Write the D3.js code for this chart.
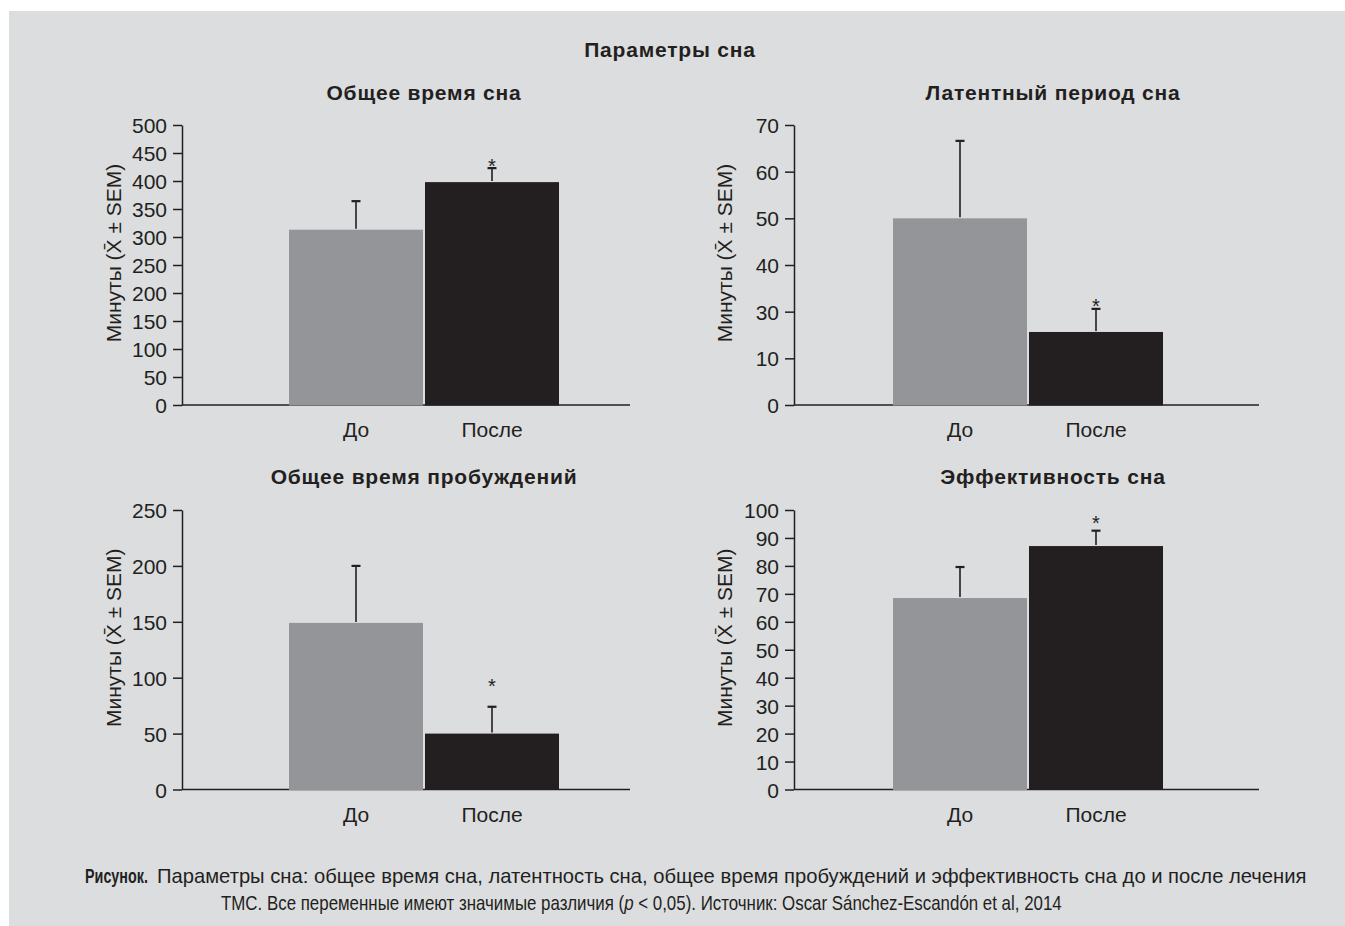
<!DOCTYPE html>
<html>
<head>
<meta charset="utf-8">
<script src="https://cdn.jsdelivr.net/npm/d3@7"></script>
<style>
  html, body { margin: 0; padding: 0; background: #ffffff; }
  svg { display: block; }
</style>
</head>
<body>
<svg id="chart" width="1345" height="926"></svg>
<script>
// ---------------- data ----------------
const categories = ["До", "После"];
const mainTitle = "Параметры сна";
const panelTitles = ["Общее время сна", "Латентный период сна", "Общее время пробуждений", "Эффективность сна"];
const yAxisLabel = "Минуты (X\u0304 ± SEM)";

const totalSleep = [313, 398];
const totalSleepSEM = [51, 25];
const sleepLatency = [50, 21.3];
const sleepLatencySEM = [16.6, 9.3];
const wakeTime = [149, 50];
const wakeTimeSEM = [51, 24];
const efficiency = [68.5, 87.1];
const efficiencySEM = [11.1, 5.5];

const ticksTotalSleep = [0, 50, 100, 150, 200, 250, 300, 350, 400, 450, 500];
const ticksLatency = [0, 10, 30, 40, 50, 60, 70];
const ticksWake = [0, 50, 100, 150, 200, 250];
const ticksEfficiency = [0, 10, 20, 30, 40, 50, 60, 70, 80, 90, 100];

// level (in data units) of the significance asterisk above the "После" bar
const starLevels = [434, 32.1, 96, 96.8];

const captionBold = "Рисунок.";
const captionLine1 = "Параметры сна: общее время сна, латентность сна, общее время пробуждений и эффективность сна до и после лечения";
const captionLine2a = "ТМС. Все переменные имеют значимые различия (";
const captionLine2p = "p";
const captionLine2b = " < 0,05). Источник: Oscar Sánchez-Escandón et al, 2014";

// ---------------- style ----------------
const INK = "#231f20";
const BG = "#dcdddf";
const barColors = ["#939598", "#231f20"];
const FONT = "'Liberation Sans', Arial, Helvetica, sans-serif";

const svg = d3.select("#chart");
svg.append("rect").attr("x", 9).attr("y", 11).attr("width", 1345 - 9).attr("height", 926 - 11).attr("fill", BG);

svg.append("text").attr("x", 670).attr("y", 57).attr("text-anchor", "middle")
  .attr("font-family", FONT).attr("font-weight", "bold").attr("font-size", 21)
  .attr("letter-spacing", 0.8).attr("fill", INK)
  .text(mainTitle);

const panels = [
  {title: panelTitles[0], values: totalSleep, sem: totalSleepSEM, ticks: ticksTotalSleep, star: starLevels[0],
   axisX: 182, y0: 405, yTop: 125, barStart: 289, barEnd: 559, lineEnd: 630, titleX: 424, titleY: 100, labX: 114},
  {title: panelTitles[1], values: sleepLatency, sem: sleepLatencySEM, ticks: ticksLatency, star: starLevels[1],
   axisX: 794, y0: 405, yTop: 125, barStart: 893, barEnd: 1163, lineEnd: 1259, titleX: 1053, titleY: 100, labX: 725},
  {title: panelTitles[2], values: wakeTime, sem: wakeTimeSEM, ticks: ticksWake, star: starLevels[2],
   axisX: 182, y0: 789.5, yTop: 510, barStart: 289, barEnd: 559, lineEnd: 630, titleX: 424, titleY: 484, labX: 114},
  {title: panelTitles[3], values: efficiency, sem: efficiencySEM, ticks: ticksEfficiency, star: starLevels[3],
   axisX: 794, y0: 789.5, yTop: 510, barStart: 893, barEnd: 1163, lineEnd: 1259, titleX: 1053, titleY: 484, labX: 725}
];

panels.forEach(p => {
  const g = svg.append("g");
  const n = p.ticks.length;
  // piecewise-linear scale: tick labels are evenly spaced along the axis
  const y = d3.scaleLinear()
    .domain(p.ticks)
    .range(p.ticks.map((d, i) => p.y0 - i * (p.y0 - p.yTop) / (n - 1)));
  const x = d3.scaleBand().domain(categories)
    .range([p.barStart, p.barEnd]).paddingInner(2 / 136).paddingOuter(0);

  // title
  g.append("text").attr("x", p.titleX).attr("y", p.titleY).attr("text-anchor", "middle")
    .attr("font-family", FONT).attr("font-weight", "bold").attr("font-size", 21)
    .attr("letter-spacing", 0.8).attr("fill", INK)
    .text(p.title);

  // x baseline
  g.append("line").attr("x1", p.axisX).attr("x2", p.lineEnd).attr("y1", p.y0).attr("y2", p.y0)
    .attr("stroke", INK).attr("stroke-width", 1.5);

  // y axis
  const ax = g.append("g").attr("transform", `translate(${p.axisX},0)`)
    .call(d3.axisLeft(y).tickValues(p.ticks).tickFormat(d3.format("d")).tickSize(9).tickSizeOuter(0).tickPadding(6));
  ax.select(".domain").attr("stroke", INK).attr("stroke-width", 1.5);
  ax.selectAll(".tick line").attr("stroke", INK).attr("stroke-width", 1.5);
  ax.selectAll(".tick text").attr("font-family", FONT).attr("font-size", 21).attr("fill", INK).attr("dy", "0.36em");

  // y label
  g.append("text").attr("transform", `translate(${p.labX},${(p.y0 + p.yTop) / 2 - 12}) rotate(-90)`)
    .attr("text-anchor", "middle").attr("dy", "0.35em")
    .attr("font-family", FONT).attr("font-size", 21).attr("fill", INK)
    .text(yAxisLabel);

  // bars
  g.selectAll("rect.bar").data(categories).enter().append("rect")
    .attr("x", d => x(d)).attr("width", x.bandwidth())
    .attr("y", (d, i) => y(p.values[i])).attr("height", (d, i) => p.y0 - y(p.values[i]) + 0.5)
    .attr("fill", (d, i) => barColors[i]);

  // error bars
  categories.forEach((c, i) => {
    const cx = x(c) + x.bandwidth() / 2;
    const top = y(p.values[i] + p.sem[i]);
    g.append("line").attr("x1", cx).attr("x2", cx).attr("y1", y(p.values[i]) - 1).attr("y2", top)
      .attr("stroke", INK).attr("stroke-width", 1.6);
    g.append("line").attr("x1", cx - 4.5).attr("x2", cx + 4.5).attr("y1", top).attr("y2", top)
      .attr("stroke", INK).attr("stroke-width", 2.2);
  });

  // asterisk
  const cxA = x(categories[1]) + x.bandwidth() / 2;
  g.append("text").attr("x", cxA).attr("y", y(p.star) + 11).attr("text-anchor", "middle")
    .attr("font-family", FONT).attr("font-size", 20).attr("fill", INK).text("*");

  // category labels
  g.selectAll("text.cat").data(categories).enter().append("text")
    .attr("x", d => x(d) + x.bandwidth() / 2).attr("y", p.y0 + 32).attr("text-anchor", "middle")
    .attr("font-family", FONT).attr("font-size", 21).attr("fill", INK).text(d => d);
});

// caption: condensed look via horizontal scaling to the reference widths
const CAPFONT = "'Liberation Sans', Arial, sans-serif";
function condensed(x, y, width, build) {
  const g = svg.append("g");
  const t = g.append("text").attr("x", 0).attr("y", 0)
    .attr("font-family", CAPFONT).attr("font-size", 21).attr("fill", INK);
  build(t);
  const natural = t.node().getComputedTextLength();
  g.attr("transform", `translate(${x},${y}) scale(${width / natural},1)`);
}
condensed(85, 883, 63, t => t.attr("font-weight", "bold").text(captionBold));
condensed(157, 883, 1150, t => t.text(captionLine1));
condensed(221, 910, 841, t => {
  t.append("tspan").text(captionLine2a);
  t.append("tspan").attr("font-style", "italic").text(captionLine2p);
  t.append("tspan").text(captionLine2b);
});
</script>
</body>
</html>
